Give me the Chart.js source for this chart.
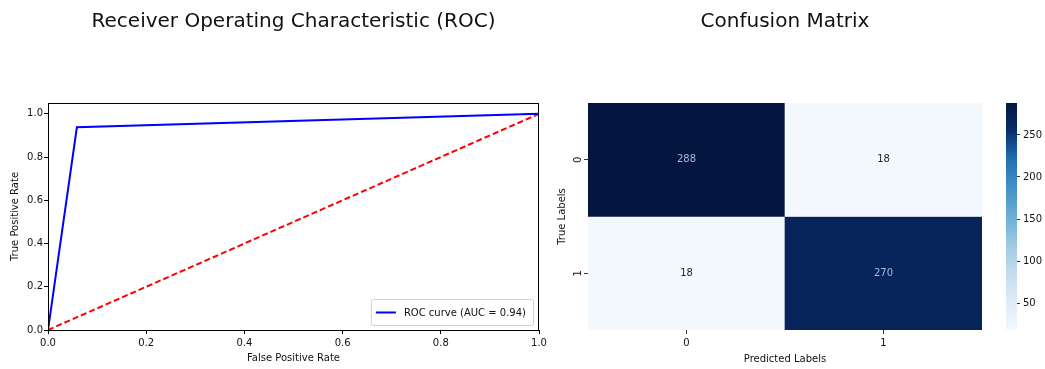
<!DOCTYPE html>
<html lang="en">
<head>
  <meta charset="UTF-8" />
  <title>ROC + Confusion Matrix</title>
  <script src="https://cdn.jsdelivr.net/npm/chart.js"></script>
  <style>
    body {
      margin: 0;
      width: 1045px; height: 369px;
      background: #fff;
      overflow: hidden;
      position: relative;
    }
    canvas { position: absolute; top: 0; }
  </style>
</head>
<body>
  <canvas id="roc" width="555" height="369" style="left:0"></canvas>
  <canvas id="cm" width="440" height="369" style="left:555px"></canvas>
  <canvas id="cbar" width="50" height="369" style="left:995px"></canvas>

<script>
  // ROC data
  const fpr = [0, 0.0588, 1];
  const tpr = [0, 0.9375, 1];
  const chanceX = [0, 1];
  const chanceY = [0, 1];
  const rocLabel = 'ROC curve (AUC = 0.94)';
  const rocTicks = [0, 0.2, 0.4, 0.6, 0.8, 1.0];

  // confusion matrix data
  const cmClasses = ['0', '1'];
  const cmRow0 = [288, 18];
  const cmRow1 = [18, 270];
  const cbarTicks = [50, 100, 150, 200, 250];
  const vmin = 18, vmax = 288;

  const FONT = "'DejaVu Sans', sans-serif";
  Chart.defaults.font.family = FONT;
  Chart.defaults.font.size = 10;
  Chart.defaults.color = '#111';
  Chart.defaults.animation = false;

  // Blues colormap, top end darkened to match the picture
  const bluesStops = ['#f3f8fe', '#deebf7', '#c6dbef', '#9ecae1', '#6baed6', '#4292c6', '#2171b5', '#08306f', '#04163f'];
  function hexToRgb(h) {
    return [1, 3, 5].map(i => parseInt(h.slice(i, i + 2), 16));
  }
  function blues(t) {
    t = Math.max(0, Math.min(1, t));
    const p = t * (bluesStops.length - 1);
    const i = Math.min(Math.floor(p), bluesStops.length - 2);
    const f = p - i;
    const a = hexToRgb(bluesStops[i]), b = hexToRgb(bluesStops[i + 1]);
    const c = a.map((v, k) => Math.round(v + (b[k] - v) * f));
    return `rgb(${c[0]},${c[1]},${c[2]})`;
  }
  const norm = v => (v - vmin) / (vmax - vmin);

  // black box round the axes
  const frame = {
    id: 'frame',
    afterDraw(chart) {
      const { ctx, chartArea: a } = chart;
      ctx.save();
      ctx.strokeStyle = '#000';
      ctx.lineWidth = 1;
      ctx.strokeRect(Math.round(a.left) + 0.5, Math.round(a.top) + 0.5,
        Math.round(a.right - a.left) - 1, Math.round(a.bottom - a.top));
      ctx.restore();
    }
  };

  // matplotlib style legend, lower right inside the axes
  const innerLegend = {
    id: 'innerLegend',
    afterDraw(chart) {
      const ds = chart.data.datasets[0];
      const { ctx, chartArea: a } = chart;
      ctx.save();
      ctx.font = `10px ${FONT}`;
      const tw = ctx.measureText(ds.label).width;
      const w = tw + 40, h = 26;
      const x = a.right - 6 - w, y = a.bottom - 5 - h;
      ctx.fillStyle = 'rgba(255,255,255,0.8)';
      ctx.strokeStyle = '#d0d0d0';
      ctx.lineWidth = 1;
      ctx.beginPath();
      ctx.roundRect(x + 0.5, y + 0.5, w, h, 2);
      ctx.fill();
      ctx.stroke();
      ctx.strokeStyle = ds.borderColor;
      ctx.lineWidth = 2;
      ctx.beginPath();
      ctx.moveTo(x + 5, y + h / 2 + 0.5);
      ctx.lineTo(x + 25, y + h / 2 + 0.5);
      ctx.stroke();
      ctx.fillStyle = '#111';
      ctx.textBaseline = 'middle';
      ctx.fillText(ds.label, x + 33, y + h / 2 + 1);
      ctx.restore();
    }
  };

  new Chart(document.getElementById('roc'), {
    type: 'line',
    data: {
      datasets: [
        {
          label: rocLabel,
          data: fpr.map((x, i) => ({ x, y: tpr[i] })),
          borderColor: '#0000ff',
          borderWidth: 2,
          pointRadius: 0,
          tension: 0
        },
        {
          label: 'chance',
          data: chanceX.map((x, i) => ({ x, y: chanceY[i] })),
          borderColor: '#ff0000',
          borderWidth: 2,
          borderDash: [6, 3],
          pointRadius: 0,
          tension: 0
        }
      ]
    },
    options: {
      responsive: false,
      layout: { padding: { left: 0, right: 16, top: 0, bottom: 0 } },
      plugins: {
        legend: { display: false },
        tooltip: { enabled: false },
        title: {
          display: true,
          text: 'Receiver Operating Characteristic (ROC)',
          fullSize: false,
          color: '#111',
          font: { size: 20, weight: 'normal' },
          padding: { top: 10, bottom: 69 }
        }
      },
      scales: {
        x: {
          type: 'linear', min: 0, max: 1,
          afterBuildTicks: s => { s.ticks = rocTicks.map(value => ({ value })); },
          afterFit: s => { s.height = 39; },
          ticks: { callback: v => v.toFixed(1), padding: 3, maxRotation: 0 },
          grid: { display: true, drawOnChartArea: false, tickLength: 4, color: '#000' },
          border: { display: false },
          title: { display: true, text: 'False Positive Rate', padding: { top: 2, bottom: 5 } }
        },
        y: {
          type: 'linear', min: 0, max: 1.05,
          afterBuildTicks: s => { s.ticks = rocTicks.map(value => ({ value })); },
          afterFit: s => { s.width = 48; },
          ticks: { callback: v => v.toFixed(1), padding: 1 },
          grid: { display: true, drawOnChartArea: false, tickLength: 4, color: '#000' },
          border: { display: false },
          title: { display: true, text: 'True Positive Rate', padding: { top: 9, bottom: 2 } }
        }
      }
    },
    plugins: [frame, innerLegend]
  });

  // value labels in the cells
  const cellText = {
    id: 'cellText',
    afterDatasetsDraw(chart) {
      const { ctx } = chart;
      ctx.save();
      ctx.font = `10px ${FONT}`;
      ctx.textAlign = 'center';
      ctx.textBaseline = 'middle';
      chart.data.datasets.forEach((ds, di) => {
        chart.getDatasetMeta(di).data.forEach((bar, i) => {
          const v = ds.values[i];
          ctx.fillStyle = norm(v) > 0.5 ? '#a9bbd8' : '#262626';
          ctx.fillText(String(v), bar.x, (bar.y + bar.base) / 2);
        });
      });
      ctx.restore();
    }
  };

  const cmRows = [cmRow0, cmRow1];
  new Chart(document.getElementById('cm'), {
    type: 'bar',
    data: {
      labels: cmClasses,
      datasets: cmRows.map((row, r) => ({
        label: 'row ' + r,
        values: row,
        data: row.map(() => [r, r + 1]),
        backgroundColor: row.map(v => blues(norm(v))),
        borderWidth: 0,
        grouped: false,
        barPercentage: 1,
        categoryPercentage: 1
      }))
    },
    options: {
      responsive: false,
      layout: { padding: { left: 0, right: 13, top: 0, bottom: 0 } },
      plugins: {
        legend: { display: false },
        tooltip: { enabled: false },
        title: {
          display: true,
          text: 'Confusion Matrix',
          fullSize: false,
          color: '#111',
          font: { size: 20, weight: 'normal' },
          padding: { top: 10, bottom: 69 }
        }
      },
      scales: {
        x: {
          type: 'category',
          offset: true,
          afterFit: s => { s.height = 39; },
          ticks: { padding: 3, maxRotation: 0 },
          grid: { display: true, drawOnChartArea: false, offset: false, tickLength: 4, color: '#333' },
          border: { display: false },
          title: { display: true, text: 'Predicted Labels', padding: { top: 2, bottom: 4 } }
        },
        y: {
          type: 'linear', min: 0, max: 2, reverse: true,
          afterBuildTicks: s => { s.ticks = cmClasses.map((c, i) => ({ value: i + 0.5 })); },
          afterFit: s => { s.width = 33; },
          ticks: {
            callback: v => cmClasses[Math.floor(v)],
            minRotation: 90, maxRotation: 90,
            crossAlign: 'center',
            padding: 2
          },
          grid: { display: true, drawOnChartArea: false, tickLength: 4, color: '#333' },
          border: { display: false },
          title: { display: true, text: 'True Labels', padding: { top: 1, bottom: 2 } }
        }
      }
    },
    plugins: [cellText]
  });

  // colour bar
  new Chart(document.getElementById('cbar'), {
    type: 'bar',
    data: {
      labels: [''],
      datasets: [{
        data: [[vmin, vmax]],
        borderWidth: 0,
        barPercentage: 1,
        categoryPercentage: 1,
        backgroundColor: ctx => {
          const { chart } = ctx;
          const a = chart.chartArea;
          if (!a) return blues(0.5);
          const y = chart.scales.y;
          const g = chart.ctx.createLinearGradient(0, y.getPixelForValue(vmin), 0, y.getPixelForValue(vmax));
          bluesStops.forEach((c, i) => g.addColorStop(i / (bluesStops.length - 1), c));
          return g;
        }
      }]
    },
    options: {
      responsive: false,
      layout: { padding: { left: 11, right: 0, top: 103, bottom: 39 } },
      plugins: { legend: { display: false }, tooltip: { enabled: false } },
      scales: {
        x: { display: false, offset: true },
        y: {
          position: 'right',
          min: vmin, max: vmax,
          afterBuildTicks: s => { s.ticks = cbarTicks.map(value => ({ value })); },
          afterFit: s => { s.width = 28; },
          ticks: { padding: 3 },
          grid: { display: true, drawOnChartArea: false, tickLength: 3, color: '#333' },
          border: { display: false }
        }
      }
    }
  });
</script>
</body>
</html>
